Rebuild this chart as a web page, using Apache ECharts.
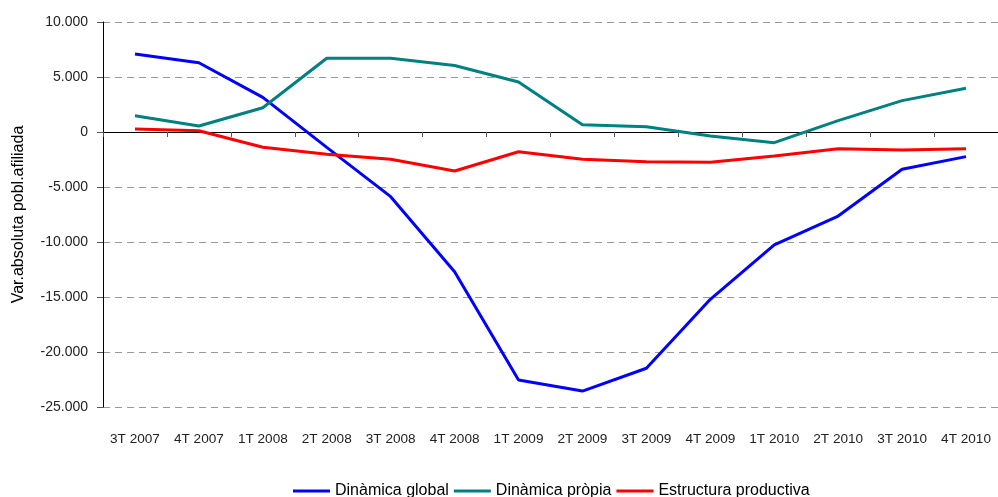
<!DOCTYPE html>
<html>
<head>
<meta charset="utf-8">
<script src="https://cdn.jsdelivr.net/npm/echarts@6/dist/echarts.min.js"></script>
<style>
  html, body { margin: 0; padding: 0; background: #fff; overflow: hidden; }
  #chart { width: 998px; height: 497px; }
</style>
</head>
<body>
<div id="chart"></div>
<script>
const categories = ['3T 2007', '4T 2007', '1T 2008', '2T 2008', '3T 2008', '4T 2008', '1T 2009',
  '2T 2009', '3T 2009', '4T 2009', '1T 2010', '2T 2010', '3T 2010', '4T 2010']

const dinamicaGlobal = [7090, 6300, 3150, -1400, -5880, -12700, -22550, -23550, -21480, -15210, -10270, -7640, -3390, -2240]
const dinamicaPropia = [1480, 545, 2210, 6700, 6700, 6050, 4550, 665, 480, -360, -970, 1030, 2850, 3970]
const estructuraProductiva = [270, 120, -1390, -2030, -2480, -3550, -1790, -2480, -2700, -2760, -2180, -1520, -1640, -1520]

const font = 'Liberation Sans, Arial, sans-serif'
const fmt = (v) => {
  const s = Math.abs(v).toString().replace(/\B(?=(\d{3})+(?!\d))/g, '.')
  return (v < 0 ? '-' : '') + s
}

const chart = echarts.init(document.getElementById('chart'), null, { renderer: 'canvas' })

const lineSeries = (name, data, color) => ({
  name,
  type: 'line',
  data,
  symbol: 'none',
  lineStyle: { color, width: 3 },
  itemStyle: { color },
  z: 5
})

chart.setOption({
  animation: false,
  textStyle: { fontFamily: font },
  grid: { left: 103, top: 22, width: 901, height: 385 },
  legend: {
    left: 288,
    top: 478,
    icon: 'rect',
    itemWidth: 37,
    itemHeight: 3,
    itemGap: 5,
    textStyle: { fontFamily: font, fontSize: 16, color: '#000' },
    data: ['Dinàmica global', 'Dinàmica pròpia', 'Estructura productiva']
  },
  xAxis: [
    {
      type: 'category',
      data: categories,
      boundaryGap: true,
      axisLine: { show: false, onZero: false },
      axisTick: { show: false },
      axisLabel: { fontFamily: font, fontSize: 13.6, color: '#222', margin: 25, interval: 0 }
    },
    {
      type: 'category',
      data: categories,
      boundaryGap: true,
      position: 'bottom',
      axisLine: { show: true, onZero: true, lineStyle: { color: '#000', width: 1 } },
      axisTick: { show: true, length: 5, lineStyle: { color: '#555' } },
      axisLabel: { show: false }
    }
  ],
  yAxis: {
    type: 'value',
    min: -25000,
    max: 10000,
    interval: 5000,
    name: 'Var.absoluta pobl.afiliada',
    nameLocation: 'middle',
    nameGap: 76,
    nameTextStyle: { fontFamily: font, fontSize: 16, color: '#000' },
    axisLine: { show: true, lineStyle: { color: '#000', width: 1 } },
    axisTick: { show: true, length: 6, lineStyle: { color: '#555' } },
    axisLabel: { fontFamily: font, fontSize: 14, color: '#222', margin: 15, formatter: fmt },
    splitLine: { show: true, lineStyle: { color: '#999', type: [7, 5], width: 1 } }
  },
  series: [
    lineSeries('Dinàmica global', dinamicaGlobal, '#0000ff'),
    lineSeries('Dinàmica pròpia', dinamicaPropia, '#008080'),
    lineSeries('Estructura productiva', estructuraProductiva, '#ff0000')
  ]
})
</script>
</body>
</html>
